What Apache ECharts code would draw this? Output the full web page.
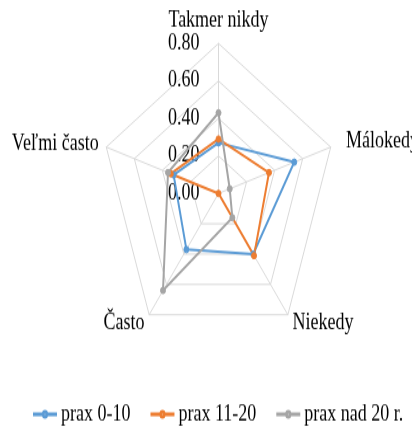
<!DOCTYPE html>
<html>
<head>
<meta charset="utf-8">
<style>
  html, body { margin: 0; padding: 0; background: #fff; width: 412px; height: 427px; overflow: hidden; }
  .wrap { width: 412px; height: 427px; }
  #chart { width: 412px; height: 336px; transform: scaleY(1.2708); transform-origin: 0 0; }
</style>
<script src="https://cdn.jsdelivr.net/npm/echarts@6/dist/echarts.min.js"></script>
</head>
<body>
<div class="wrap">
  <div id="chart"></div>
</div>
<script>
  // indicators in counter-clockwise order starting at the top
  var categories = ['Takmer nikdy', 'Veľmi často', 'Často', 'Niekedy', 'Málokedy']
  var seriesNames = ['prax 0-10', 'prax 11-20', 'prax nad 20 r.']
  var prax0_10 = [0.27, 0.32, 0.37, 0.40, 0.54]
  var prax11_20 = [0.29, 0.34, 0.00, 0.41, 0.36]
  var praxNad20 = [0.43, 0.36, 0.64, 0.16, 0.08]
  var colors = ['#5B9BD5', '#ED7D31', '#A5A5A5']

  var font = 'Liberation Serif, Times New Roman, serif'
  var chart = echarts.init(document.getElementById('chart'))

  // name gaps differ a bit per axis in the excel original
  var nameGaps = [0, 8, 8, 8, 16]

  var indicator = categories.map(function (name, i) {
    var ind = { name: name, min: 0, max: 0.8, nameGap: nameGaps[i] }
    if (i === 0) {
      ind.axisLabel = { show: true } // only the top axis carries the scale
    }
    return ind
  })

  // line with a small ring in the middle, like the excel legend key
  var legendIcon = 'path://M0,2.6H9A2,2 0 0 1 13,2.6H22V3.4H13A2,2 0 0 1 9,3.4H0Z' +
    'M9.6,3A1.4,1.4 0 1 0 12.4,3A1.4,1.4 0 1 0 9.6,3Z'

  function makeSeries (name, data, color) {
    return {
      type: 'radar',
      name: name,
      symbol: 'circle',
      symbolSize: 5,
      lineStyle: { color: color, width: 2 },
      itemStyle: { color: color, borderColor: color, borderWidth: 1 },
      data: [{ name: name, value: data }]
    }
  }

  var option = {
    animation: false,
    color: colors,
    legend: {
      data: seriesNames.map(function (n) { return { name: n, icon: legendIcon } }),
      bottom: -4,
      left: 28,
      itemWidth: 22,
      itemHeight: 6,
      itemGap: 20,
      textStyle: { fontFamily: font, fontSize: 18, color: '#000' }
    },
    radar: {
      center: [218.5, 152.2],
      radius: 118,
      startAngle: 90,
      splitNumber: 4,
      shape: 'polygon',
      nameGap: 8,
      axisName: { color: '#000', fontFamily: font, fontSize: 18 },
      axisLine: { lineStyle: { color: '#d9d9d9', width: 1 } },
      splitLine: { lineStyle: { color: '#d9d9d9', width: 1 } },
      splitArea: { show: false },
      axisTick: { show: false },
      axisLabel: {
        show: false,
        fontFamily: font,
        fontSize: 18,
        color: '#000',
        margin: 19,
        formatter: function (v) { return v.toFixed(2) }
      },
      indicator: indicator
    },
    series: [
      makeSeries(seriesNames[0], prax0_10, colors[0]),
      makeSeries(seriesNames[1], prax11_20, colors[1]),
      makeSeries(seriesNames[2], praxNad20, colors[2])
    ]
  }

  chart.setOption(option)
</script>
</body>
</html>
